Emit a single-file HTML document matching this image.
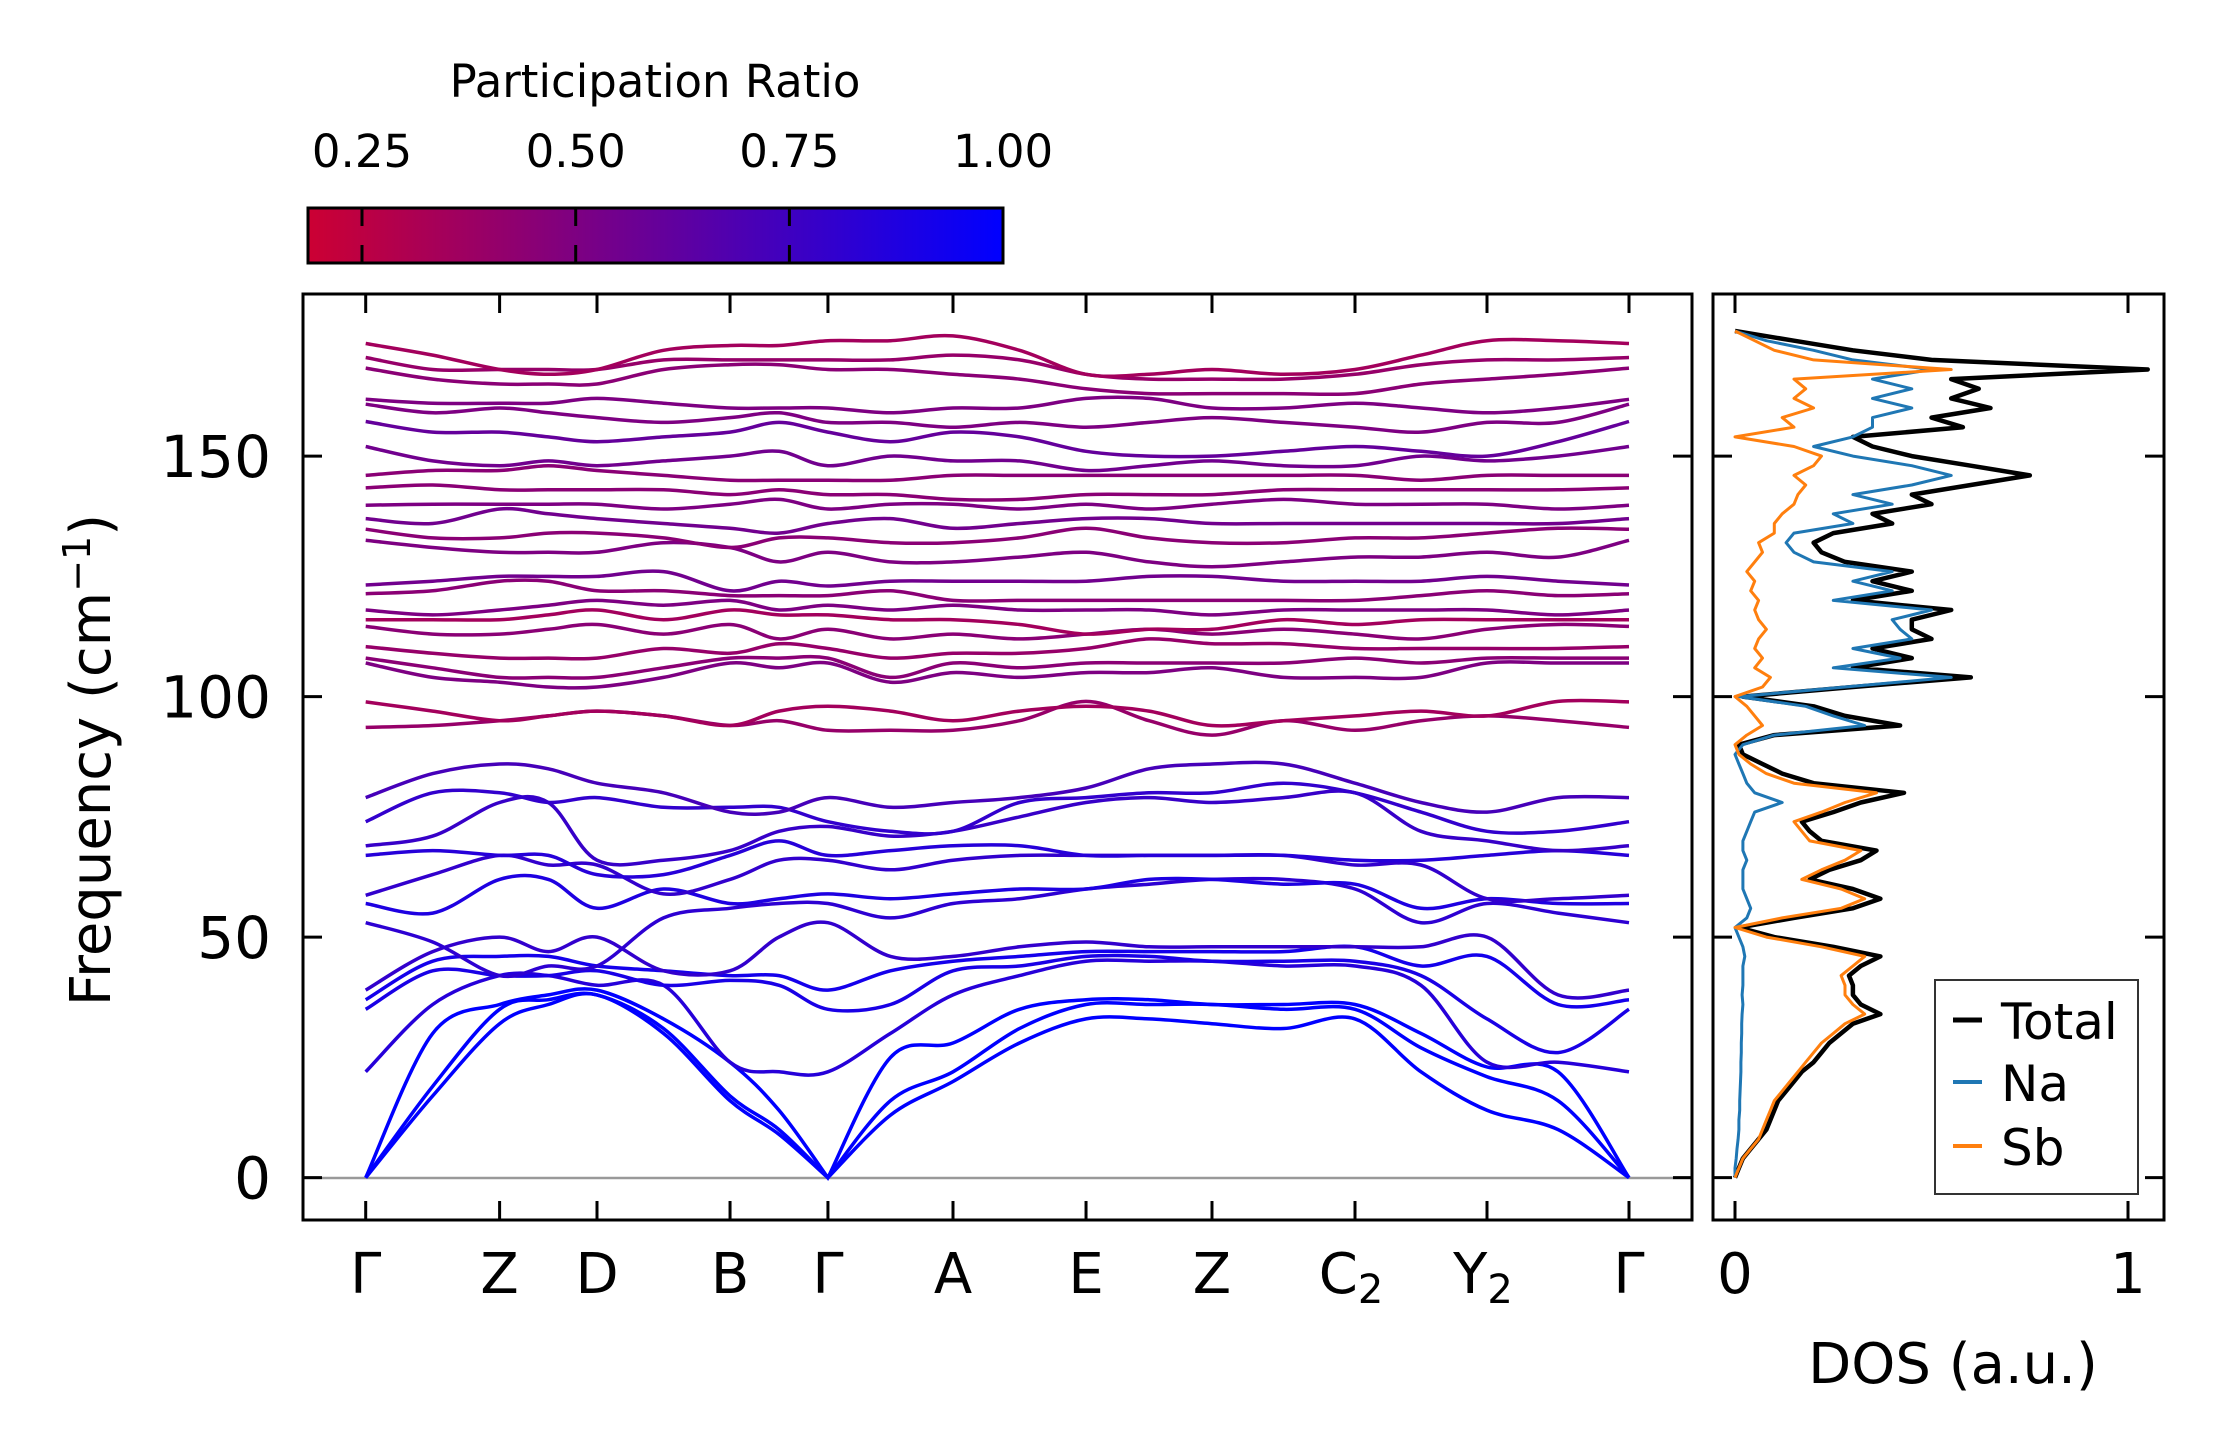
<!DOCTYPE html>
<html><head><meta charset="utf-8"><style>
html,body{margin:0;padding:0;background:#fff;}
svg{display:block;font-family:"DejaVu Sans","Liberation Sans",sans-serif;}
</style></head><body>
<svg id="fig" width="2222" height="1455" viewBox="0 0 2222 1455" xmlns="http://www.w3.org/2000/svg">
<defs>
<linearGradient id="cbgrad" x1="0" x2="1" y1="0" y2="0">
<stop offset="0" stop-color="#cc0033"/><stop offset="1" stop-color="#0000ff"/>
</linearGradient>
<clipPath id="mainclip"><rect x="303" y="294" width="1389" height="926"/></clipPath>
<clipPath id="dosclip"><rect x="1713" y="294" width="451" height="926"/></clipPath>
</defs>
<g>
<text x="655" y="97" font-size="45" text-anchor="middle">Participation Ratio</text>
<rect x="308" y="208" width="695" height="55" fill="url(#cbgrad)" stroke="#000" stroke-width="3"/>
<g id="cbticks"></g>
</g>
<g id="main">
<line x1="303" x2="1692" y1="1178" y2="1178" stroke="#999" stroke-width="2.5"/>
<g id="bands" clip-path="url(#mainclip)"></g>
<rect x="303" y="294" width="1389" height="926" fill="none" stroke="#000" stroke-width="3"/>
<g id="mainticks"></g>
<text transform="translate(110,760) rotate(-90)" font-size="56" text-anchor="middle">Frequency (cm<tspan dy="-20" font-size="38">−1</tspan><tspan dy="20">)</tspan></text>
</g>
<g id="dos">
<g id="doslines" clip-path="url(#dosclip)"></g>
<rect x="1713" y="294" width="451" height="926" fill="none" stroke="#000" stroke-width="3"/>
<g id="dosticks"></g>
<text x="1953" y="1383" font-size="56" text-anchor="middle">DOS (a.u.)</text>
<g>
<rect x="1935" y="980" width="203" height="214" fill="#fff" stroke="#333" stroke-width="2"/>
<line x1="1953" x2="1982" y1="1020" y2="1020" stroke="#000" stroke-width="5"/>
<text x="2001" y="1039" font-size="50">Total</text>
<line x1="1953" x2="1982" y1="1082" y2="1082" stroke="#1f77b4" stroke-width="4"/>
<text x="2001" y="1101" font-size="50">Na</text>
<line x1="1953" x2="1982" y1="1146" y2="1146" stroke="#ff7f0e" stroke-width="4"/>
<text x="2001" y="1165" font-size="50">Sb</text>
</g>
</g>
</svg>
<script>
const kLabels=["Γ","Z","D","B","Γ","A","E","Z","C","Y","Γ"];
const kSubs=["","","","","","","","","2","2",""];
const kPos=[0,0.106,0.1831,0.2884,0.3659,0.4649,0.5702,0.6699,0.7831,0.8876,1];
const yTicks=[0,50,100,150];
const cbTicks=[0.25,0.5,0.75,1.0];
const dosTicks=[0,1];
const lowBands=[
[0,17,32,36,38,30,16,9,0,13,20,28,33,33,32,31,33,22,14,10,0],
[0,19,35,37,38,31,17,10,0,16,22,31,36,36,36,35,35,27,21,16,0],
[0,30,36,38,39,33,24,14,0,25,28,35,37,37,36,36,36,30,23,22,0],
[22,36,42,42,40,40,24,22,22,30,38,42,45,45,45,44,44,40,24,24,22],
[35,43,42,42,43,40,41,40,35,36,43,44,46,46,45,45,45,42,33,26,35],
[37,45,46,46,44,43,42,42,39,43,45,46,47,47,47,47,48,44,46,36,37],
[39,47,50,47,50,43,43,50,53,46,46,48,49,48,48,48,48,48,50,38,39],
[53,49,42,44,44,54,56,57,57,54,57,58,60,61,62,62,60,53,57,55,53],
[57,55,62,62,56,60,57,58,59,58,59,60,60,62,62,61,61,56,58,57,57],
[58.7,63,67,65,65,59,62,66,66,64,66,67,67,67,67,67,65,65,58,58,58.7],
[67,68,67,67,63,63,67,70,67,68,69,69,67,67,67,67,66,66,67,68,67],
[69,71,78,78,66,66,68,72,73,71,72,75,78,79,78,79,80,72,70,68,69],
[74,80,80,78,79,77,77,77,74,72,72,78,79,80,80,82,80,76,72,72,74],
[79,84,86,85,82,80,76,76,79,77,78,79,81,85,86,86,82,78,76,79,79]];
const lowPR=[1,1,1,0.85,0.9,0.92,0.8,0.82,0.88,0.8,0.85,0.78,0.8,0.72];
const highBands=[
[93.6,94,95,96,97,96,94,95,93,93,93,95,99,95,92,95,93,95,96,95,93.6],
[98.9,97,95,96,97,96,94,97,98,97,95,97,98,97,94,95,96,97,96,99,98.9],
[107,104,103,102,102,104,107,106,107,103,105,104,105,105,106,104,104,104,107,107,107],
[108,106,104,104,104,106,108,108,108,104,107,106,107,107,107,107,108,107,108,108,108],
[110.4,109,108,108,108,110,109,111,110,108,109,109,110,112,111,111,110,110,110,110,110.4],
[114.6,113,113,114,115,113,115,112,114,112,113,112,113,114,113,114,113,112,114,115,114.6],
[116,116,116,117,118,116,118,117,117,116,116,115,113,114,114,116,115,116,116,116,116],
[118,117,118,119,120,119,120,118,119,118,119,118,118,118,117,118,118,118,118,117,118],
[121.4,122,124,124,122,122,121,121,121,122,120,120,120,120,120,120,120,121,122,121,121.4],
[123.2,124,125,125,125,126,122,124,123,124,124,124,124,125,125,124,124,124,125,124,123.2],
[132.5,131,130,130,130,132,131,128,130,128,128,129,130,128,127,128,129,129,130,129,132.5],
[134.8,133,133,134,134,133,131,133,133,132,132,133,135,133,132,132,133,133,134,135,134.8],
[137,136,139,138,137,136,135,134,136,137,135,136,137,137,136,136,136,136,136,136,137],
[139.8,140,140,140,140,139,140,141,139,140,140,139,140,139,140,141,140,140,140,139,139.8],
[143.4,144,143,143,143,143,142,143,142,142,141,141,142,142,142,143,143,143,143,143,143.4],
[146,147,147,148,147,146,145,145,145,145,146,146,146,146,146,146,146,145,146,146,146],
[152,149,148,149,148,149,150,151,148,150,149,149,147,148,149,148,148,150,149,150,152],
[157.2,155,155,154,153,154,155,157,155,153,155,154,151,150,150,151,152,151,150,153,157.2],
[160.8,159,160,159,158,157,158,159,157,157,156,157,156,157,158,157,156,155,157,157,160.8],
[161.8,161,161,161,162,161,160,160,160,159,160,160,162,162,160,160,161,160,159,160,161.8],
[168.3,166,165,165,165,168,169,169,168,168,167,166,164,163,163,163,163,165,166,167,168.3],
[170.5,168,168,168,168,170,170,170,170,170,171,170,167,166,166,166,167,169,170,170,170.5],
[173.4,171,168,167,168,172,173,173,174,174,175,172,167,167,168,167,168,171,174,174,173.4]];
const highPR=[0.4,0.35,0.5,0.45,0.4,0.45,0.35,0.5,0.45,0.55,0.5,0.45,0.55,0.5,0.45,0.45,0.55,0.6,0.5,0.5,0.45,0.4,0.35];
const dosTotal=[0,0.01,0.02,0.04,0.06,0.08,0.09,0.1,0.11,0.13,0.15,0.17,0.2,0.22,0.24,0.27,0.3,0.37,0.32,0.3,0.3,0.29,0.32,0.37,0.25,0.1,0.01,0.15,0.3,0.37,0.3,0.19,0.24,0.32,0.36,0.22,0.19,0.17,0.25,0.32,0.43,0.2,0.12,0.07,0.02,0.01,0.1,0.42,0.28,0.2,0.02,0.3,0.6,0.3,0.45,0.35,0.5,0.45,0.45,0.55,0.3,0.45,0.35,0.45,0.28,0.22,0.2,0.25,0.4,0.35,0.5,0.45,0.6,0.75,0.6,0.45,0.35,0.3,0.58,0.5,0.65,0.55,0.62,0.55,1.05,0.5,0.3,0.15,0];
const dosSb=[0,0.01,0.02,0.04,0.06,0.07,0.08,0.09,0.1,0.12,0.14,0.16,0.18,0.2,0.22,0.25,0.28,0.33,0.3,0.28,0.28,0.27,0.3,0.33,0.22,0.08,0,0.12,0.27,0.33,0.27,0.17,0.22,0.28,0.32,0.19,0.17,0.15,0.22,0.28,0.36,0.15,0.08,0.04,0.01,0,0.03,0.07,0.05,0.03,0,0.07,0.09,0.05,0.07,0.05,0.06,0.08,0.06,0.05,0.06,0.04,0.05,0.03,0.05,0.07,0.06,0.1,0.1,0.12,0.15,0.16,0.18,0.15,0.2,0.22,0.15,0,0.15,0.12,0.2,0.15,0.18,0.15,0.55,0.2,0.1,0.05,0];
const dosNa=[0,0,0.003,0.005,0.008,0.01,0.01,0.012,0.012,0.013,0.014,0.015,0.015,0.016,0.016,0.017,0.017,0.018,0.02,0.018,0.02,0.02,0.02,0.025,0.02,0.01,0,0.03,0.04,0.03,0.02,0.02,0.02,0.03,0.02,0.02,0.03,0.04,0.05,0.12,0.05,0.03,0.02,0.01,0,0.02,0.1,0.33,0.25,0.18,0.01,0.28,0.55,0.25,0.42,0.3,0.45,0.42,0.4,0.5,0.25,0.4,0.3,0.4,0.2,0.15,0.13,0.15,0.3,0.25,0.4,0.3,0.45,0.55,0.45,0.3,0.2,0.3,0.35,0.35,0.45,0.35,0.45,0.35,0.5,0.3,0.2,0.08,0];
const dosStep=2;

const NS="http://www.w3.org/2000/svg";
const X0=303,X1=1692,Y0=294,Y1=1220;
const KX0=365.7,KX1=1629;
const yMin=-8.8,yMax=183.7;
function yS(f){return Y1-(f-yMin)/(yMax-yMin)*(Y1-Y0);}
function kX(p){return KX0+p*(KX1-KX0);}
function sX(i){const k=Math.floor(i/2);if(i%2===0)return kX(kPos[k]);return kX((kPos[k]+kPos[k+1])/2);}
const dX0=1735,dX1=2128;
function dX(v){return dX0+v*(dX1-dX0);}
function prColor(p){const t=Math.max(0,Math.min(1,(p-0.186)/(1-0.186)));const r=Math.round(204*(1-t)),b=Math.round(51+204*t);return `rgb(${r},0,${b})`;}
function mk(tag,attrs,parent){const e=document.createElementNS(NS,tag);for(const k in attrs)e.setAttribute(k,attrs[k]);parent.appendChild(e);return e;}
function smoothPath(pts,cusp){let d=`M${pts[0][0].toFixed(1)},${pts[0][1].toFixed(1)}`;
const n=pts.length;
for(let i=0;i<n-1;i++){const p1=pts[i],p2=pts[i+1];
const p0=(i===0||cusp[i])?p1:pts[i-1];
const p3=(i+2>n-1||cusp[i+1])?p2:pts[i+2];
const c1=[p1[0]+(p2[0]-p0[0])/6,p1[1]+(p2[1]-p0[1])/6],c2=[p2[0]-(p3[0]-p1[0])/6,p2[1]-(p3[1]-p1[1])/6];
d+=`C${c1[0].toFixed(1)},${c1[1].toFixed(1)} ${c2[0].toFixed(1)},${c2[1].toFixed(1)} ${p2[0].toFixed(1)},${p2[1].toFixed(1)}`;}return d;}

const bandsG=document.getElementById('bands');
function drawBands(list,prs,prefix){list.forEach((b,j)=>{const pts=b.map((f,i)=>[sX(i),yS(f)]);
const cusp=b.map(f=>f===0);
const p=mk('path',{d:smoothPath(pts,cusp),fill:'none',stroke:prColor(prs[j]),'stroke-width':3.5},bandsG);

});}
drawBands(lowBands,lowPR,'acoustic-low');
drawBands(highBands,highPR,'optical-high');

const mt=document.getElementById('mainticks');
kPos.forEach((p,i)=>{const x=kX(p);
mk('line',{x1:x,x2:x,y1:Y0,y2:Y0+19,stroke:'#000','stroke-width':3},mt);
mk('line',{x1:x,x2:x,y1:Y1,y2:Y1-19,stroke:'#000','stroke-width':3},mt);
const t=mk('text',{x:x,y:1293,'font-size':56,'text-anchor':'middle'},mt);


t.textContent=kLabels[i];
if(kSubs[i]){const s=document.createElementNS(NS,'tspan');s.setAttribute('font-size','40');s.setAttribute('dy','10');s.textContent=kSubs[i];t.appendChild(s);t.setAttribute('x',x-4);}});
yTicks.forEach(v=>{const y=yS(v);
mk('line',{x1:X0,x2:X0+19,y1:y,y2:y,stroke:'#000','stroke-width':3},mt);
mk('line',{x1:X1,x2:X1-19,y1:y,y2:y,stroke:'#000','stroke-width':3},mt);
const t=mk('text',{x:271,y:y+21,'font-size':58,'text-anchor':'end'},mt);


t.textContent=v;});

const cb=document.getElementById('cbticks');
cbTicks.forEach(v=>{const x=362+(v-0.25)/0.25*213.7;
if(v<1){mk('line',{x1:x,x2:x,y1:208,y2:226,stroke:'#000','stroke-width':3},cb);mk('line',{x1:x,x2:x,y1:245,y2:263,stroke:'#000','stroke-width':3},cb);}
const t=mk('text',{x:x,y:167,'font-size':45,'text-anchor':'middle'},cb);


t.textContent=v.toFixed(2);});

const dl=document.getElementById('doslines');
function drawDos(arr,color,w,name){const pts=arr.map((v,i)=>`${dX(v).toFixed(1)},${yS(i*dosStep).toFixed(1)}`).join(' ');
const p=mk('polyline',{points:pts,fill:'none',stroke:color,'stroke-width':w,'stroke-linejoin':'round'},dl);

}
drawDos(dosTotal,'#000',4.5,'dos-total-line');
drawDos(dosNa,'#1f77b4',3,'dos-na-line');
drawDos(dosSb,'#ff7f0e',3,'dos-sb-line');
const dt=document.getElementById('dosticks');
dosTicks.forEach(v=>{const x=dX(v);
mk('line',{x1:x,x2:x,y1:Y0,y2:Y0+19,stroke:'#000','stroke-width':3},dt);
mk('line',{x1:x,x2:x,y1:Y1,y2:Y1-19,stroke:'#000','stroke-width':3},dt);
const t=mk('text',{x:x,y:1293,'font-size':56,'text-anchor':'middle'},dt);


t.textContent=v;});
yTicks.forEach(v=>{const y=yS(v);
mk('line',{x1:1713,x2:1732,y1:y,y2:y,stroke:'#000','stroke-width':3},dt);
mk('line',{x1:2164,x2:2145,y1:y,y2:y,stroke:'#000','stroke-width':3},dt);});
</script>
</body></html>
